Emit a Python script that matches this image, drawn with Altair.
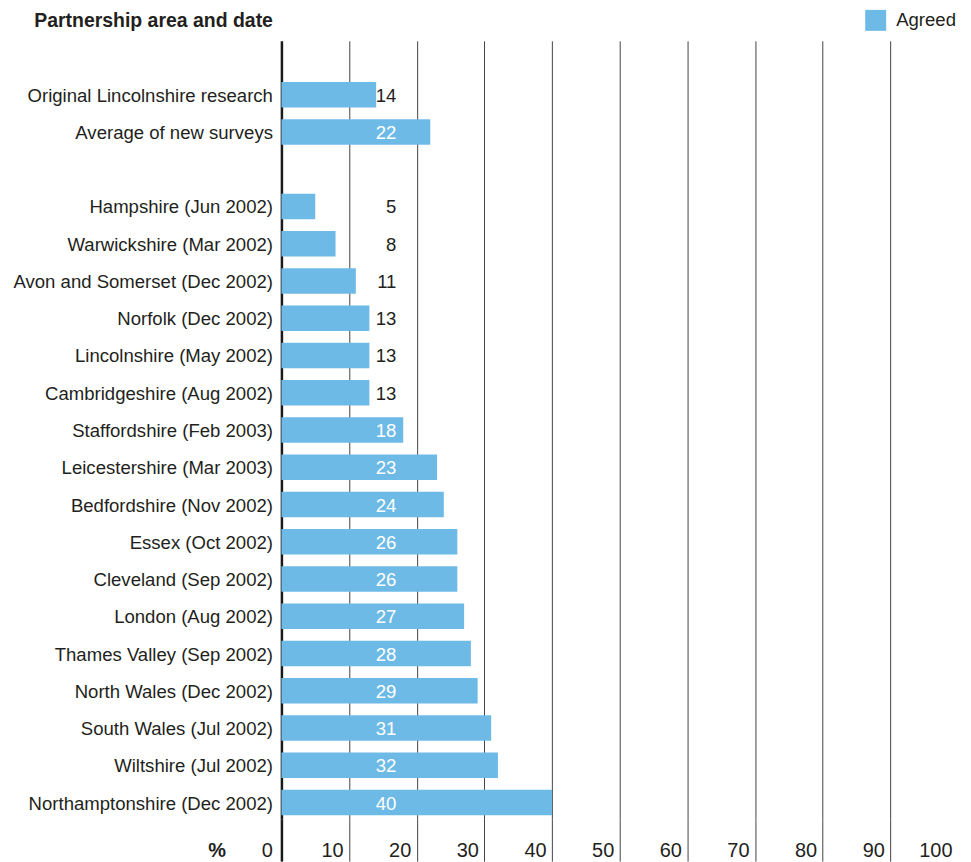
import altair as alt
import pandas as pd

categories = [
    "Original Lincolnshire research",
    "Average of new surveys",
    "Hampshire (Jun 2002)",
    "Warwickshire (Mar 2002)",
    "Avon and Somerset (Dec 2002)",
    "Norfolk (Dec 2002)",
    "Lincolnshire (May 2002)",
    "Cambridgeshire (Aug 2002)",
    "Staffordshire (Feb 2003)",
    "Leicestershire (Mar 2003)",
    "Bedfordshire (Nov 2002)",
    "Essex (Oct 2002)",
    "Cleveland (Sep 2002)",
    "London (Aug 2002)",
    "Thames Valley (Sep 2002)",
    "North Wales (Dec 2002)",
    "South Wales (Jul 2002)",
    "Wiltshire (Jul 2002)",
    "Northamptonshire (Dec 2002)",
]
values = [14, 22, 5, 8, 11, 13, 13, 13, 18, 23, 24, 26, 26, 27, 28, 29, 31, 32, 40]
tick_values = [0, 10, 20, 30, 40, 50, 60, 70, 80, 90, 100]
series_name = "Agreed"

BAR = "#6EBAE7"
TXT = "#231F20"
GRID = "#444444"
FS = 18.6

df = pd.DataFrame({"category": categories, "value": values})

# blank rows: one at top, one separating the summary rows from the areas
y_domain = [" "] + categories[:2] + ["  "] + categories[2:]

y_enc = alt.Y(
    "category:N",
    sort=None,
    scale=alt.Scale(domain=y_domain, paddingInner=0.317, paddingOuter=0.105),
    axis=alt.Axis(
        ticks=False,
        domain=False,
        grid=False,
        labelFontSize=FS,
        labelColor=TXT,
        labelPadding=9,
        labelLimit=500,
        labelBaseline="middle",
        labelOffset=1,
        title="Partnership area and date",
        titleAngle=0,
        titleFontSize=19.5,
        titleFontWeight="bold",
        titleColor=TXT,
        titleAlign="right",
        titleBaseline="alphabetic",
        titleX=-9,
        titleY=-14,
    ),
)

is_zero = "datum.value === 0"
is_last = "datum.value === 100"

x_axis = alt.Axis(
    values=tick_values,
    grid=True,
    gridColor={"condition": {"test": is_zero, "value": "#1a1a1a"}, "value": GRID},
    gridWidth={"condition": {"test": is_zero, "value": 2.5}, "value": 1},
    gridOpacity={"condition": {"test": is_last, "value": 0}, "value": 1},
    ticks=True,
    tickSize=42,
    tickColor={"condition": {"test": is_zero, "value": "#1a1a1a"}, "value": GRID},
    tickWidth={"condition": {"test": is_zero, "value": 2.5}, "value": 1},
    tickOpacity={"condition": {"test": is_last, "value": 0}, "value": 1},
    domain=False,
    labelFontSize=20,
    labelColor=TXT,
    labelAlign="right",
    labelBaseline="alphabetic",
    labelPadding=-5,
    labelOffset={"condition": {"test": is_zero, "value": -9}, "value": -6},
    labelFlush=False,
    labelOverlap=False,
    title="%",
    titleFontSize=20,
    titleFontWeight="bold",
    titleColor=TXT,
    titleAlign="right",
    titleBaseline="alphabetic",
    titleX=-56,
    titleY=37,
)

x_scale = alt.Scale(domain=[0, 100], nice=False, zero=True)

base = alt.Chart(df)

bars = base.transform_calculate(series=f"'{series_name}'").mark_bar(cornerRadius=0).encode(
    x=alt.X("value:Q", scale=x_scale, axis=x_axis),
    y=y_enc,
    color=alt.Color(
        "series:N",
        scale=alt.Scale(domain=[series_name], range=[BAR]),
        legend=alt.Legend(
            title=None,
            orient="none",
            legendX=585,
            legendY=-31,
            symbolType="square",
            symbolSize=441,
            symbolStrokeWidth=0,
            labelFontSize=FS,
            labelColor=TXT,
            labelOffset=10,
            padding=0,
        ),
    ),
)

labels = base.mark_text(align="right", baseline="middle", fontSize=FS, dy=1).encode(
    x=alt.datum(17),
    y=y_enc,
    text=alt.Text("value:Q"),
    color=alt.condition("datum.value > 16", alt.value("white"), alt.value(TXT)),
)

chart = (
    alt.layer(bars, labels)
    .properties(
        width=678,
        height=780,
        autosize=alt.AutoSizeParams(type="none"),
        padding={"left": 274, "top": 32, "right": 5, "bottom": 50},
        background="white",
    )
    .configure(font="Liberation Sans")
    .configure_view(strokeWidth=0, stroke=None)
)

chart.save("out.html", embed_options={"renderer": "svg", "actions": False})
